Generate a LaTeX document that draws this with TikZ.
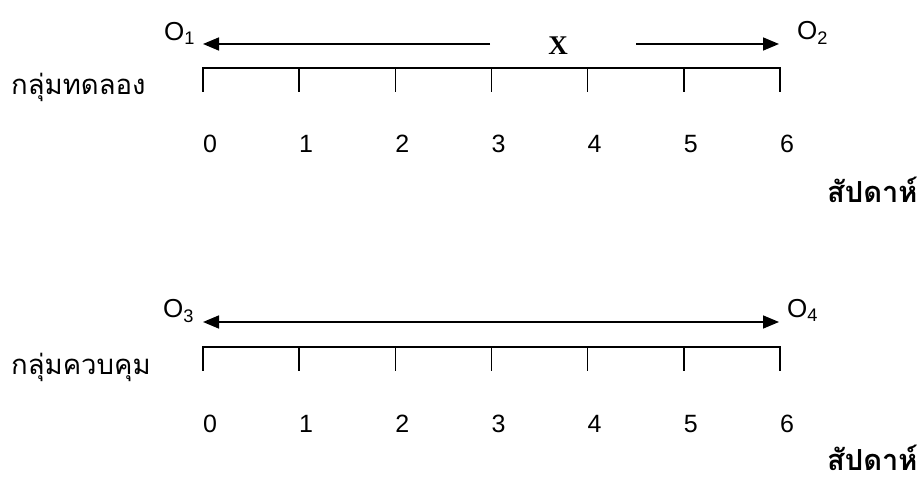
\documentclass[tikz,border=0pt]{standalone}
\usepackage{fontspec}
\setmainfont{Liberation Sans}
\newfontfamily\thaifont[Script=Thai]{Loma}
\newfontfamily\serifx{Liberation Serif}
\usetikzlibrary{arrows.meta}
\begin{document}
\begin{tikzpicture}[x=1pt,y=-1pt,
  axisline/.style={line width=1.6pt},
  arr/.style={line width=1.6pt,-{Triangle[length=16pt,width=13pt]}},
  darr/.style={line width=1.6pt,{Triangle[length=16pt,width=13pt]}-{Triangle[length=16pt,width=13pt]}},
  num/.style={font=\fontsize{25}{25}\selectfont, inner sep=0, anchor=base},
  grp/.style={font=\thaifont\fontsize{27.5}{27.5}\selectfont, inner sep=0, anchor=base west},
  week/.style={font=\thaifont\bfseries\fontsize{29}{29}\selectfont, inner sep=0, anchor=base west},
  obs/.style={font=\fontsize{26}{26}\selectfont, inner sep=0, anchor=base west},
  xlab/.style={font=\serifx\bfseries\fontsize{27}{27}\selectfont, inner sep=0}]
\useasboundingbox (0,0) rectangle (924,486);
\fill[white] (0,0) rectangle (924,486);

% ---------- experimental group ----------
\node[grp] (g1) at (11,95) {กลุ่มทดลอง};
\draw[axisline] (203,92) -- (203,68) -- (780,68) -- (780,92);
\foreach \i in {1,...,5}{
  \draw[axisline] (203+96.17*\i,68) -- (203+96.17*\i,92);
}
\foreach \i in {0,...,6}{
  \node[num] (t\i) at (210+96.17*\i,153) {\i};
}
\node[obs] (o1) at (164,41) {O\textsubscript{1}};
\node[obs] (o2) at (797,40) {O\textsubscript{2}};
\coordinate (a1s) at (490,44);
\coordinate (a1e) at (203,44);
\coordinate (a2s) at (636,44);
\coordinate (a2e) at (779,44);
\draw[arr] (a1s) -- (a1e);
\draw[arr] (a2s) -- (a2e);
\node[xlab] (x) at (558,46) {X};
\node[week] (w1) at (827,203) {สัปดาห์};

% ---------- control group ----------
\node[grp] (g2) at (11,374) {กลุ่มควบคุม};
\draw[axisline] (203,371) -- (203,347) -- (780,347) -- (780,371);
\foreach \i in {1,...,5}{
  \draw[axisline] (203+96.17*\i,347) -- (203+96.17*\i,371);
}
\foreach \i in {0,...,6}{
  \node[num] (b\i) at (210+96.17*\i,432) {\i};
}
\node[obs] (o3) at (163,318) {O\textsubscript{3}};
\node[obs] (o4) at (787,318) {O\textsubscript{4}};
\coordinate (a3s) at (203,322);
\coordinate (a3e) at (779,322);
\draw[darr] (a3s) -- (a3e);
\node[week] (w2) at (827,470) {สัปดาห์};
\end{tikzpicture}
\end{document}
